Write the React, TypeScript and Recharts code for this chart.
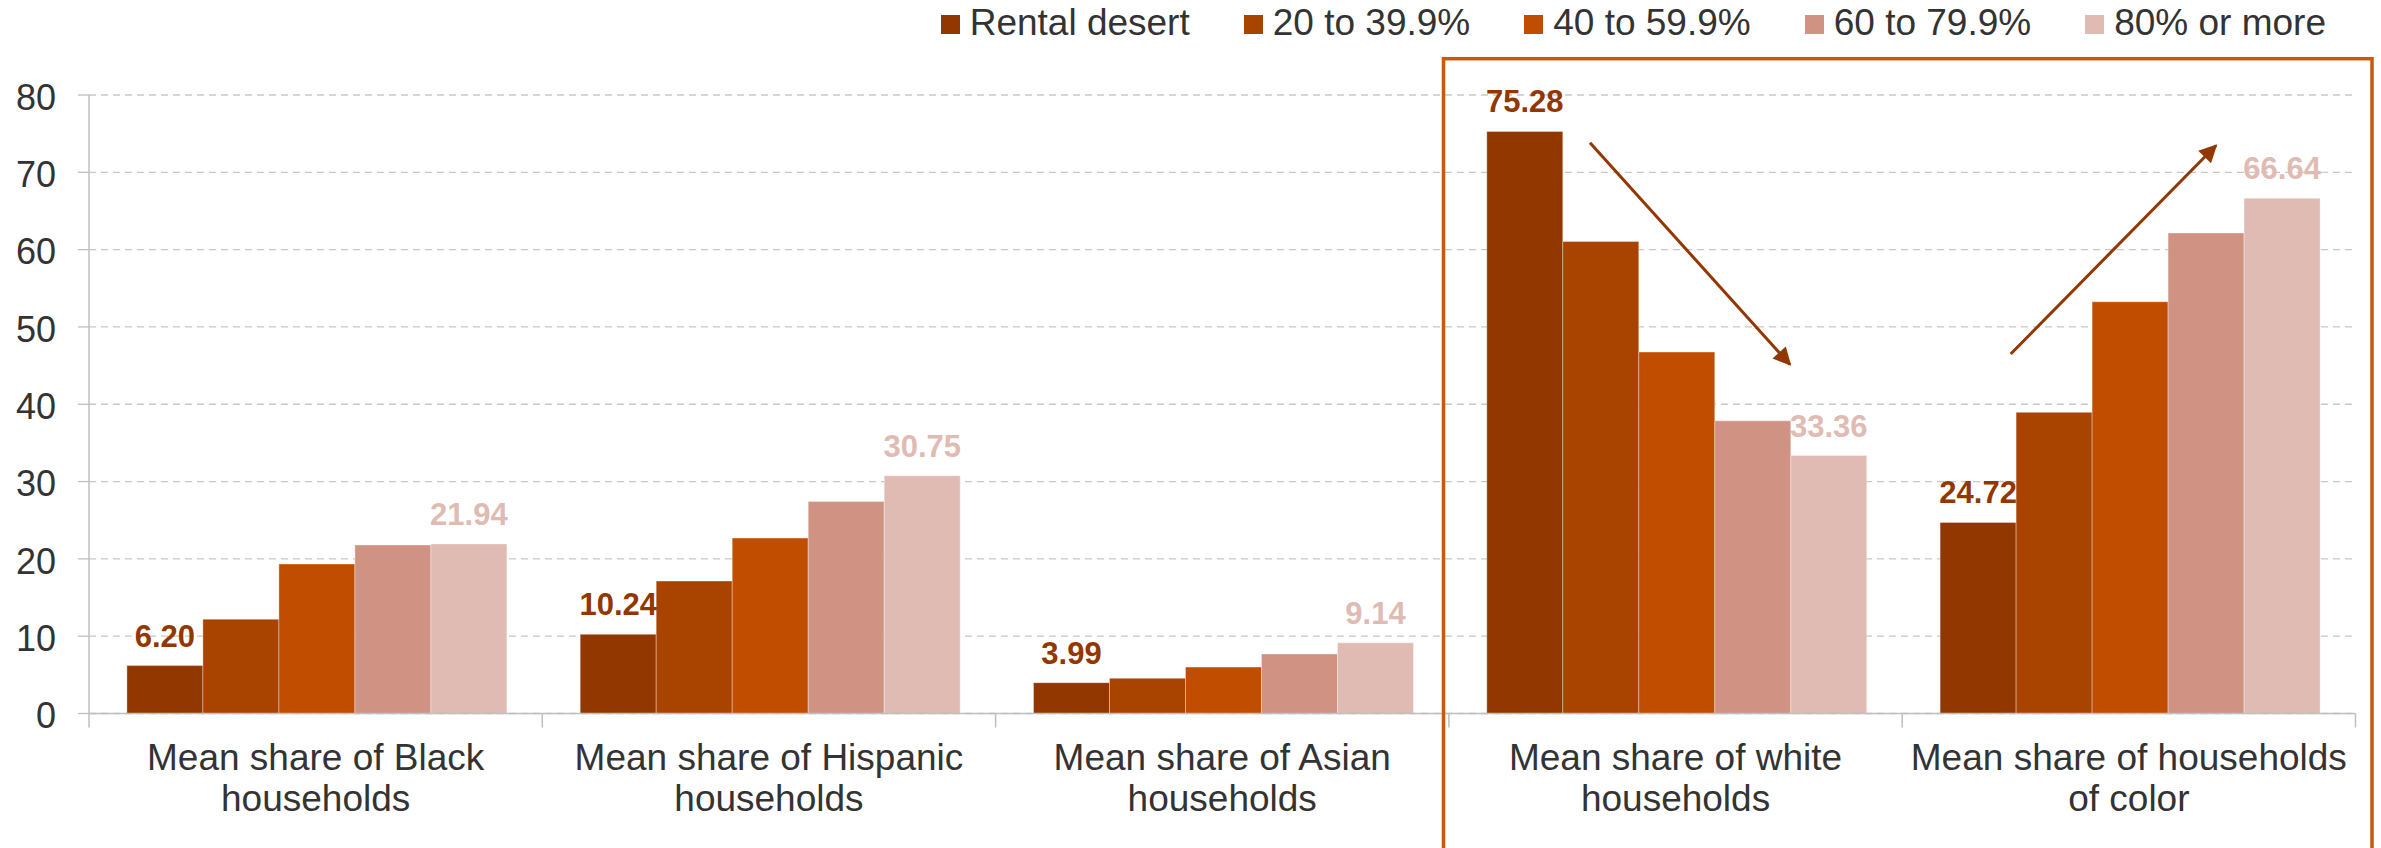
import React from 'react';
import { BarChart, Bar, XAxis, YAxis, CartesianGrid, Legend, LabelList } from 'recharts';

// Categories and their two-line axis labels
const categories = [
  'Mean share of Black households',
  'Mean share of Hispanic households',
  'Mean share of Asian households',
  'Mean share of white households',
  'Mean share of households of color',
];
const categoryLines = [
  ['Mean share of Black', 'households'],
  ['Mean share of Hispanic', 'households'],
  ['Mean share of Asian', 'households'],
  ['Mean share of white', 'households'],
  ['Mean share of households', 'of color'],
];

// Series (renter share of the neighborhood)
const seriesKeys = ['desert', 's20', 's40', 's60', 's80'];
const seriesNames = ['Rental desert', '20 to 39.9%', '40 to 59.9%', '60 to 79.9%', '80% or more'];
const seriesColors = ['#933700', '#A84300', '#C04D00', '#D09283', '#E0BBB3'];

const rentalDesert = [6.2, 10.24, 3.99, 75.28, 24.72];
const share20to40 = [12.2, 17.13, 4.55, 61.05, 38.95];
const share40to60 = [19.33, 22.69, 6.0, 46.75, 53.25];
const share60to80 = [21.8, 27.43, 7.7, 37.85, 62.15];
const share80plus = [21.94, 30.75, 9.14, 33.36, 66.64];

const yTicks = [0, 10, 20, 30, 40, 50, 60, 70, 80];

const seriesValues = [rentalDesert, share20to40, share40to60, share60to80, share80plus];
const data = categories.map((name, i) => {
  const row: Record<string, any> = { name, index: i };
  seriesKeys.forEach((k, s) => {
    row[k] = seriesValues[s][i];
  });
  return row;
});

// Layout
const W = 2381;
const H = 848;
const Y_AXIS_W = 89;
const MARGIN_RIGHT = 25.5;
const LEGEND_H = 50;
const PLOT_TOP = 95;
const X_AXIS_H = 134.5;
const BAND = (W - Y_AXIS_W - MARGIN_RIGHT) / categories.length;

const FONT = '"Liberation Sans", Arial, Helvetica, sans-serif';
const TEXT = '#333333';
const AXIS = '#bfbfbf';
const FRAME = '#C55A11';
const ARROW = '#933700';

const CategoryTick = (props: any) => {
  const { x, y, payload, index } = props;
  const idx = payload.index ?? index;
  const lines = categoryLines[idx] || [String(payload.value)];
  const left = x - BAND / 2;
  const right = x + BAND / 2;
  const isLast = idx === categories.length - 1;
  return (
    <g>
      <line x1={left} y1={y} x2={left} y2={y + 14} stroke={AXIS} strokeWidth={1.5} />
      {isLast && <line x1={right} y1={y} x2={right} y2={y + 14} stroke={AXIS} strokeWidth={1.5} />}
      <text x={x} y={y} textAnchor="middle" fontFamily={FONT} fontSize={37} fill={TEXT}>
        {lines.map((ln, i) => (
          <tspan key={i} x={x} y={y + 56.5 + i * 41}>
            {ln}
          </tspan>
        ))}
      </text>
    </g>
  );
};

const LegendContent = () => (
  <div
    style={{
      display: 'flex',
      justifyContent: 'flex-end',
      alignItems: 'flex-start',
      height: LEGEND_H,
      width: W,
      paddingRight: 55,
      boxSizing: 'border-box',
      fontFamily: FONT,
    }}
  >
    {seriesNames.map((name, i) => (
      <div key={name} style={{ display: 'flex', alignItems: 'flex-start', marginLeft: i === 0 ? 0 : 54 }}>
        <div style={{ width: 19, height: 19, background: seriesColors[i], marginTop: 15, marginRight: 10 }} />
        <span style={{ fontSize: 37, lineHeight: '36px', color: TEXT, marginTop: 4.5, whiteSpace: 'nowrap' }}>
          {name}
        </span>
      </div>
    ))}
  </div>
);

const fmt = (v: any) => Number(v).toFixed(2);

export default function App() {
  return (
    <div style={{ position: 'absolute', left: 0, top: 0, width: W, height: H, background: '#fff' }}>
      <BarChart
        width={W}
        height={H}
        data={data}
        margin={{ top: PLOT_TOP - LEGEND_H, right: MARGIN_RIGHT, bottom: 0, left: 0 }}
        barCategoryGap="8.36%"
        barGap={0}
      >
        <CartesianGrid vertical={false} stroke="#c8c8c8" strokeWidth={1.3} strokeDasharray="7 5" />
        <XAxis
          dataKey="name"
          height={X_AXIS_H}
          interval={0}
          tickLine={false}
          tickSize={0}
          tickMargin={0}
          axisLine={{ stroke: AXIS, strokeWidth: 1.5 }}
          tick={<CategoryTick />}
        />
        <YAxis
          width={Y_AXIS_W}
          domain={[0, 80]}
          ticks={yTicks}
          interval={0}
          tickSize={11}
          tickMargin={22}
          axisLine={{ stroke: AXIS, strokeWidth: 1.5 }}
          tickLine={{ stroke: AXIS, strokeWidth: 1.3 }}
          tick={{ fontFamily: FONT, fontSize: 36, fill: TEXT, dy: 2 }}
        />
        <Legend
          verticalAlign="top"
          align="right"
          wrapperStyle={{ top: 0, left: 0, right: 'auto', width: W, height: LEGEND_H }}
          content={<LegendContent />}
        />
        {seriesKeys.map((k, i) => (
          <Bar
            key={k}
            dataKey={k}
            name={seriesNames[i]}
            fill={seriesColors[i]}
            stroke="#ffffff"
            strokeOpacity={0.35}
            strokeWidth={1}
            isAnimationActive={false}
          >
            {(i === 0 || i === seriesKeys.length - 1) && (
              <LabelList
                dataKey={k}
                position="top"
                offset={19}
                formatter={fmt}
                fill={seriesColors[i]}
                fontFamily={FONT}
                fontSize={31}
                fontWeight="bold"
              />
            )}
          </Bar>
        ))}
      </BarChart>
      <svg
        width={W}
        height={H}
        style={{ position: 'absolute', left: 0, top: 0, pointerEvents: 'none' }}
      >
        <defs>
          <marker id="head" viewBox="0 0 10 10" refX="9" refY="5" markerWidth="7.5" markerHeight="6" orient="auto" markerUnits="strokeWidth">
            <path d="M0,0 L10,5 L0,10 z" fill={ARROW} />
          </marker>
        </defs>
        <rect x={1443.5} y={58.7} width={928.5} height={860} fill="none" stroke={FRAME} strokeWidth={3.5} />
        <line x1={1590} y1={142.7} x2={1790} y2={364.5} stroke={ARROW} strokeWidth={3} markerEnd="url(#head)" />
        <line x1={2010.7} y1={354} x2={2216} y2={145.5} stroke={ARROW} strokeWidth={3} markerEnd="url(#head)" />
      </svg>
    </div>
  );
}
